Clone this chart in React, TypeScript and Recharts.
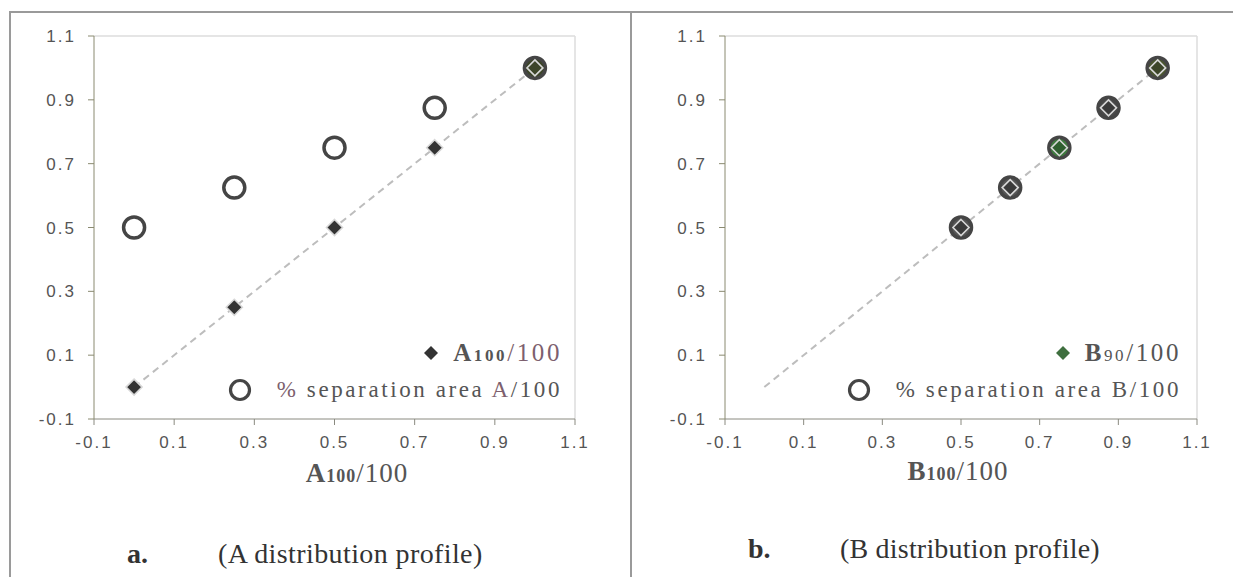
import { ScatterChart, Scatter, XAxis, YAxis, ReferenceLine, Cell } from 'recharts'

// panel a: A distribution profile
const aRatio = [0, 0.25, 0.5, 0.75, 1]
const aSeparation = [0.5, 0.625, 0.75, 0.875, 1]

// panel b: B distribution profile
const bRatio = [0.5, 0.625, 0.75, 0.875, 1]
const bNinety = [0.5, 0.625, 0.75, 0.875, 1]
const bSeparation = [0.5, 0.625, 0.75, 0.875, 1]

const trendX = [0, 1]
const trendY = [0, 1]

const axisTicks = [-0.1, 0.1, 0.3, 0.5, 0.7, 0.9, 1.1]

// marker colours (per point), kept apart from the values
const aDiamondColors = ['#333', '#333', '#333', '#333', '#3c4528']
const aCircleFill = ['#fff', '#fff', '#fff', '#fff', '#3c4528']
const bDiamondColors = ['#3a3a3a', '#3a3a3a', '#2f5f2f', '#3a3a3a', '#3c4528']
const bCircleFill = ['#555', '#555', '#3f7a3f', '#4a4a4a', '#4a5530']

const serif = '"Liberation Serif", "Times New Roman", serif'
const sans = '"Liberation Sans", Arial, sans-serif'
const textGray = '#555'
const mauve = '#7d5f6e'

const toPoints = (xs: number[], ys: number[]) => xs.map((x, i) => ({ x, y: ys[i] }))

function Diamond(props: any) {
  const { cx, cy, fill } = props
  const r = 8
  return (
    <path
      d={`M${cx},${cy - r}L${cx + r},${cy}L${cx},${cy + r}L${cx - r},${cy}Z`}
      fill={fill}
      stroke="#d8d8d8"
      strokeWidth={1.6}
    />
  )
}

function Ring(props: any) {
  const { cx, cy, fill } = props
  return <circle cx={cx} cy={cy} r={10.5} fill={fill} stroke="#454545" strokeWidth={3.5} />
}

function XTick({ x, y, payload }: any) {
  return (
    <text x={x} y={y + 11} textAnchor="middle" fill={textGray} fontFamily={sans} fontSize={17} letterSpacing={2}>
      {Number(payload.value).toFixed(1)}
    </text>
  )
}

function YTick({ x, y, payload }: any) {
  return (
    <text x={x} y={y + 6} textAnchor="end" fill={textGray} fontFamily={sans} fontSize={17} letterSpacing={2}>
      {Number(payload.value).toFixed(1)}
    </text>
  )
}

function LegendBox({ right, first, second, diamondColor }: any) {
  const row: React.CSSProperties = { display: 'flex', alignItems: 'center', justifyContent: 'flex-end', height: 37 }
  return (
    <div
      style={{
        position: 'absolute',
        right,
        top: 334,
        fontFamily: serif,
        fontSize: 23,
        letterSpacing: 2.6,
        color: textGray,
        whiteSpace: 'nowrap',
      }}
    >
      <div style={{ ...row, fontSize: 25 }}>
        <svg width={20} height={20} style={{ marginRight: 12 }}>
          <path d="M10,3L17,10L10,17L3,10Z" fill={diamondColor} />
        </svg>
        {first}
      </div>
      <div style={row}>
        <svg width={26} height={26} style={{ marginRight: 24 }}>
          <circle cx={13} cy={13} r={9.5} fill="#fff" stroke="#454545" strokeWidth={3.2} />
        </svg>
        {second}
      </div>
    </div>
  )
}

function Panel({ left, width, xData, yDiamond, yCircle, diamondColors, circleFill, marginLeft, marginRight }: any) {
  return (
    <div style={{ position: 'absolute', left, top: 0 }}>
      <ScatterChart width={width} height={577} margin={{ top: 36, right: marginRight, left: marginLeft, bottom: 128 }}>
        <XAxis
          type="number"
          dataKey="x"
          domain={[-0.1, 1.1]}
          ticks={axisTicks}
          stroke="#8a8a80"
          tick={<XTick />}
          tickSize={6}
          tickMargin={12}
          height={30}
          allowDataOverflow
        />
        <YAxis
          type="number"
          dataKey="y"
          domain={[-0.1, 1.1]}
          ticks={axisTicks}
          stroke="#8a8a70"
          tick={<YTick />}
          tickSize={6}
          tickMargin={12}
          width={60}
          allowDataOverflow
        />
        <ReferenceLine y={1.1} stroke="#dcdcdc" strokeWidth={1.5} />
        <ReferenceLine x={1.1} stroke="#dcdcdc" strokeWidth={1.5} />
        <ReferenceLine
          segment={[
            { x: trendX[0], y: trendY[0] },
            { x: trendX[1], y: trendY[1] },
          ]}
          stroke="#bdbdbd"
          strokeWidth={2}
          strokeDasharray="7 5"
        />
        <Scatter data={toPoints(xData, yCircle)} shape={<Ring />} isAnimationActive={false}>
          {circleFill.map((c: string, i: number) => (
            <Cell key={i} fill={c} />
          ))}
        </Scatter>
        <Scatter data={toPoints(xData, yDiamond)} shape={<Diamond />} isAnimationActive={false}>
          {diamondColors.map((c: string, i: number) => (
            <Cell key={i} fill={c} />
          ))}
        </Scatter>
      </ScatterChart>
    </div>
  )
}

export default function App() {
  return (
    <div style={{ position: 'absolute', left: 0, top: 0, width: 1233, height: 577, background: '#fff', overflow: 'hidden' }}>
      {/* outer frame */}
      <div style={{ position: 'absolute', left: 9, top: 11, width: 1224, height: 2, background: '#9a9a9a' }} />
      <div style={{ position: 'absolute', left: 9, top: 11, width: 2, height: 566, background: '#9a9a9a' }} />
      <div style={{ position: 'absolute', left: 630, top: 11, width: 2, height: 566, background: '#9a9a9a' }} />

      <Panel
        left={0}
        width={620}
        xData={aRatio}
        yDiamond={aRatio}
        yCircle={aSeparation}
        diamondColors={aDiamondColors}
        circleFill={aCircleFill}
        marginLeft={34}
        marginRight={45}
      />
      <Panel
        left={632}
        width={601}
        xData={bRatio}
        yDiamond={bNinety}
        yCircle={bSeparation}
        diamondColors={bDiamondColors}
        circleFill={bCircleFill}
        marginLeft={33}
        marginRight={36}
      />

      <LegendBox
        right={1233 - 562}
        diamondColor="#333"
        first={
          <span>
            <b>A</b>
            <b style={{ fontSize: 17 }}>100</b>
            <span style={{ color: mauve }}>/100</span>
          </span>
        }
        second={
          <span>
            <span style={{ color: mauve }}>%</span> separation area <span style={{ color: mauve }}>A</span>/100
          </span>
        }
      />
      <LegendBox
        right={1233 - 1181}
        diamondColor="#3f6f3f"
        first={
          <span>
            <b>B</b>
            <span style={{ fontSize: 17 }}>90</span>/100
          </span>
        }
        second={<span>% separation area B/100</span>}
      />

      {/* axis titles */}
      <div style={{ position: 'absolute', left: 357, top: 458, transform: 'translateX(-50%)', fontFamily: serif, fontSize: 27, letterSpacing: 1, color: textGray, whiteSpace: 'nowrap' }}>
        <b>A</b>
        <b style={{ fontSize: 18 }}>100</b>
        <span>/100</span>
      </div>
      <div style={{ position: 'absolute', left: 958, top: 456, transform: 'translateX(-50%)', fontFamily: serif, fontSize: 27, letterSpacing: 1, color: textGray, whiteSpace: 'nowrap' }}>
        <b>B</b>
        <b style={{ fontSize: 18 }}>100</b>
        <span>/100</span>
      </div>

      {/* panel captions */}
      <div style={{ position: 'absolute', left: 127, top: 538, fontFamily: serif, fontSize: 28, color: '#333', whiteSpace: 'pre' }}>
        <b>a.</b>
        <span style={{ position: 'absolute', left: 91, letterSpacing: 0.4 }}>(A distribution profile)</span>
      </div>
      <div style={{ position: 'absolute', left: 748, top: 533, fontFamily: serif, fontSize: 28, color: '#333', whiteSpace: 'pre' }}>
        <b>b.</b>
        <span style={{ position: 'absolute', left: 92, letterSpacing: 0.2 }}>(B distribution profile)</span>
      </div>
    </div>
  )
}
